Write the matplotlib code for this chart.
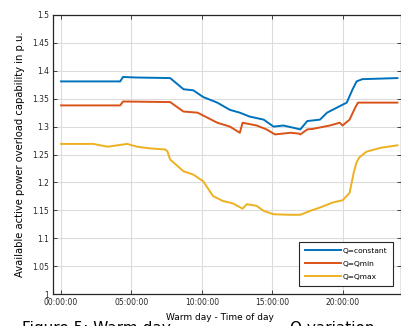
import matplotlib
matplotlib.use('Agg')
import matplotlib.pyplot as plt
import numpy as np

# hour of day / p.u. values
hours_const = [0, 4.2, 4.4, 5.3, 7.75, 8.7, 9.4, 10.1, 11.1, 12.0, 12.7, 13.4, 14.4,
               15.1, 15.8, 16.5, 17.0, 17.5, 18.4, 18.9, 19.6, 20.3, 20.7, 21.0, 21.4, 23.9]
q_const = [1.381, 1.381, 1.389, 1.388, 1.387, 1.367, 1.365, 1.353, 1.343, 1.330, 1.325, 1.318, 1.3125,
           1.300, 1.302, 1.298, 1.295, 1.310, 1.3125, 1.325, 1.334, 1.343, 1.366, 1.381, 1.385, 1.387]

hours_min = [0, 4.2, 4.4, 7.75, 8.7, 9.7, 10.4, 11.1, 12.0, 12.7, 12.9, 13.9, 14.6, 15.2,
             16.3, 16.9, 17.0, 17.5, 17.9, 19.1, 19.8, 20.0, 20.5, 20.9, 21.1, 23.9]
q_min = [1.338, 1.338, 1.345, 1.344, 1.327, 1.325, 1.316, 1.307, 1.300, 1.289, 1.307, 1.302, 1.295, 1.286,
         1.289, 1.2875, 1.286, 1.295, 1.296, 1.302, 1.307, 1.302, 1.3125, 1.334, 1.343, 1.343]

hours_max = [0, 2.3, 3.3, 4.0, 4.7, 5.4, 6.3, 7.4, 7.55, 7.75, 8.7, 9.4, 10.1, 10.8, 11.5, 12.2,
             12.9, 13.2, 13.9, 14.4, 15.1, 16.3, 17.0, 17.7, 18.4, 19.3, 20.0, 20.5, 20.8, 21.0,
             21.2, 21.7, 22.7, 23.9]
q_max = [1.269, 1.269, 1.264, 1.2665, 1.269, 1.264, 1.261, 1.259, 1.256, 1.241, 1.220, 1.214, 1.202,
         1.1755, 1.1667, 1.1625, 1.153, 1.161, 1.158, 1.149, 1.143, 1.142, 1.142, 1.149, 1.155, 1.164,
         1.168, 1.181, 1.218, 1.236, 1.245, 1.255, 1.262, 1.2665]

xtick_hours = [0, 5, 10, 15, 20]
xtick_labels = ['00:00:00', '05:00:00', '10:00:00', '15:00:00', '20:00:00']
yticks = [1, 1.05, 1.1, 1.15, 1.2, 1.25, 1.3, 1.35, 1.4, 1.45, 1.5]

fig = plt.figure(figsize=(4.02, 3.26), dpi=100)
ax = fig.add_axes([0.132, 0.098, 0.866, 0.856])

ax.plot(hours_const, q_const, color='#0072BD', lw=1.4, label='Q=constant')
ax.plot(hours_min, q_min, color='#D95319', lw=1.4, label='Q=Qmin')
ax.plot(hours_max, q_max, color='#EDB120', lw=1.4, label='Q=Qmax')

ax.set_xlim(-0.57, 24.17)
ax.set_ylim(1, 1.5)
ax.set_xticks(xtick_hours)
ax.set_xticklabels(xtick_labels)
ax.set_yticks(yticks)
ax.set_yticklabels(['%g' % v for v in yticks])
ax.tick_params(direction='in', top=True, right=True, labelsize=5.5, length=3,
               width=0.6, colors='#262626', pad=3)
ax.grid(True, color='#dcdcdc', lw=0.8)
for s in ax.spines.values():
    s.set_color('#262626')
    s.set_linewidth(0.9)

ax.set_ylabel('Available active power overload capability in p.u.', fontsize=7.2, labelpad=5)

# caption peeking in at the bottom, partly hidden by the x label
fig.text(22 / 402, 1 - 321 / 326, 'Figure 5: Warm day', fontsize=11, va='top', ha='left')
fig.text(290 / 402, 1 - 321 / 326, 'Q variation', fontsize=11, va='top', ha='left')
fig.text(220 / 402, 1 - 318 / 326, 'Warm day - Time of day', fontsize=6.5, ha='center',
         va='center', bbox=dict(facecolor='white', edgecolor='none', pad=0.5))

leg = ax.legend(loc='lower right', bbox_to_anchor=(0.977, 0.029), borderaxespad=0,
                fontsize=5.4, fancybox=False, framealpha=1, handlelength=4.8,
                handletextpad=0.2, borderpad=0.8, labelspacing=0.9)
leg.get_frame().set_edgecolor('#262626')
leg.get_frame().set_linewidth(0.8)

fig.savefig('out.png', dpi=100)
